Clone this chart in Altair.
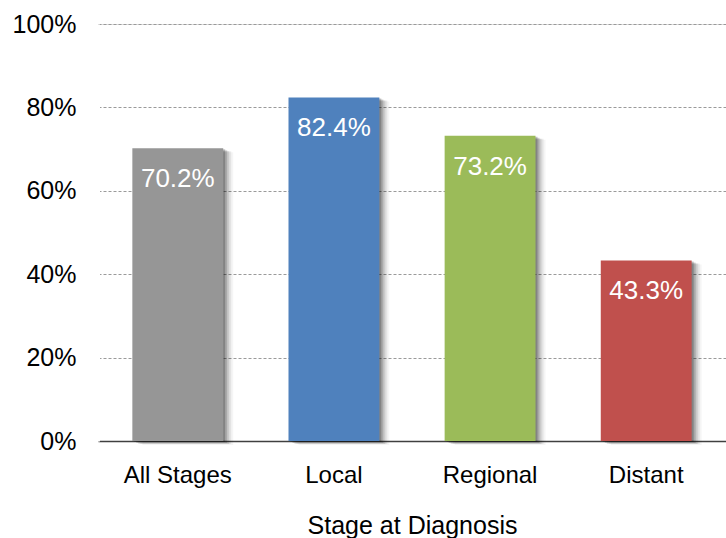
import altair as alt
import pandas as pd

stages = ["All Stages", "Local", "Regional", "Distant"]
survival = [70.2, 82.4, 73.2, 43.3]
colors = ["#969696", "#4f81bd", "#9bbb59", "#c0504d"]

df = pd.DataFrame({"stage": stages, "value": survival, "color": colors})
df["label"] = df["value"].map(lambda v: f"{v:.1f}%")
df["frac"] = df["value"] / 100

FONT = "Liberation Sans"

x_enc = alt.X(
    "stage:N",
    sort=stages,
    title="Stage at Diagnosis",
    scale=alt.Scale(paddingInner=0.418, paddingOuter=0.22),
    axis=alt.Axis(
        labelAngle=0, labelFont=FONT, labelFontSize=24, labelColor="#000000",
        labelPadding=22, ticks=False, domainColor="#404040", domainWidth=1.5,
        titleFont=FONT, titleFontSize=25, titleFontWeight="normal",
        titleColor="#000000", titlePadding=26, grid=False,
    ),
)
y_enc = alt.Y(
    "frac:Q",
    title=None,
    scale=alt.Scale(domain=[0, 1], nice=False),
    axis=alt.Axis(
        values=[0, 0.2, 0.4, 0.6, 0.8, 1.0], format=".0%",
        labelFont=FONT, labelFontSize=25, labelColor="#000000",
        labelPadding=22, ticks=False,
        domain=True, domainColor="#ffffff", domainWidth=3,
        grid=True, gridColor="#9a9a9a", gridDash=[3, 2], gridWidth=1,
    ),
)

base = alt.Chart(df)

# soft drop shadow built from a few offset translucent bars
shadows = [
    base.mark_bar(color="#000000", opacity=op, xOffset=dx, yOffset=dy, clip=False)
    .encode(x=x_enc, y=y_enc)
    for dx, dy, op in [(2, 1, 0.22), (4, 2, 0.16), (6, 3, 0.11), (8, 3, 0.07), (10, 4, 0.04)]
]

bars = base.mark_bar().encode(
    x=x_enc, y=y_enc, color=alt.Color("color:N", scale=None)
)

labels = base.mark_text(
    color="#ffffff", font=FONT, fontSize=26, baseline="middle", dy=31
).encode(x=x_enc, y=y_enc, text="label:N")

chart = (
    alt.layer(*shadows, bars, labels)
    .properties(
        width=628, height=417,
        autosize=alt.AutoSizeParams(type="none"),
        padding={"left": 98, "top": 24, "right": 0, "bottom": 97},
    )
    .configure_view(stroke="transparent", strokeWidth=0)
    .configure(background="#ffffff")
)

chart.save("out.html", embed_options={"renderer": "svg", "actions": False})
